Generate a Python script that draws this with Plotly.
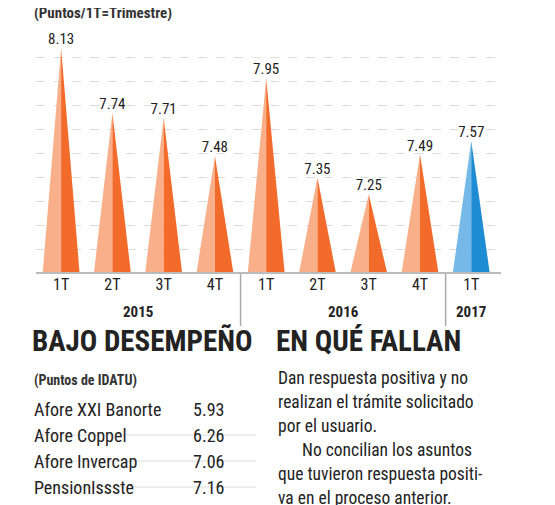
import plotly.graph_objects as go

quarters = ["1T", "2T", "3T", "4T", "1T", "2T", "3T", "4T", "1T"]
values = [8.13, 7.74, 7.71, 7.48, 7.95, 7.35, 7.25, 7.49, 7.57]
years = ["2015", "2016", "2017"]
year_pos = [1.5, 5.5, 8]
separators = [3.5, 7.5]
afores = ["Afore XXI Banorte", "Afore Coppel", "Afore Invercap", "PensionIssste"]
afore_vals = ["5.93", "6.26", "7.06", "7.16"]
para = ["Dan respuesta positiva y no", "realizan el trámite solicitado", "por el usuario.",
        "      No concilian los asuntos", "que tuvieron respuesta positi-", "va en el proceso anterior."]

BASE = 6.775
W = 0.36
COND = "Roboto Condensed, Liberation Sans Narrow, Roboto"
W_ = 555; H_ = 505

fig = go.Figure()
def halves(idx, side):
    xs, ys = [], []
    for i in idx:
        v = values[i]
        if side == "L":
            xs += [i - W, i, i, None]
        else:
            xs += [i, i, i + W, None]
        ys += [BASE, v, BASE, None]
    return xs, ys

orange = list(range(8)); blue = [8]
for idx, cl, cd in [(orange, "#f9b08a", "#f26b2b"), (blue, "#74b9e7", "#1e8cd3")]:
    for side, c in [("L", cl), ("R", cd)]:
        xs, ys = halves(idx, side)
        fig.add_trace(go.Scatter(x=xs, y=ys, fill="toself", fillcolor=c, mode="lines",
                                 line=dict(width=0), hoverinfo="skip", showlegend=False, cliponaxis=False))
fig.add_trace(go.Scatter(x=list(range(9)), y=values, mode="text", text=[f"{v:.2f}" for v in values],
                         textposition="top center", textfont=dict(family=COND, size=15, color="#222"),
                         showlegend=False, cliponaxis=False))

def py(p):
    return 1 - p / H_
def px(p):
    return p / W_

ann = []
ann.append(dict(x=px(24), y=py(5), xref="paper", yref="paper", text="<b>(Puntos/1T=Trimestre)</b>",
                showarrow=False, xanchor="left", yanchor="middle", font=dict(family=COND, size=15, color="#333")))
for y, p in zip(years, year_pos):
    ann.append(dict(x=p, y=py(304), xref="x", yref="paper", text=f"<b>{y}</b>", showarrow=False,
                    font=dict(family=COND, size=15, color="#222")))
ann.append(dict(x=px(22), y=py(352), xref="paper", yref="paper", text="<b>BAJO DESEMPEÑO</b>", showarrow=False,
                xanchor="left", font=dict(family=COND, size=29, color="#222")))
ann.append(dict(x=px(266), y=py(352), xref="paper", yref="paper", text="<b>EN QUÉ FALLAN</b>", showarrow=False,
                xanchor="left", font=dict(family=COND, size=29, color="#222")))
ann.append(dict(x=px(24), y=py(383), xref="paper", yref="paper", text="<b>(Puntos de IDATU)</b>", showarrow=False,
                xanchor="left", font=dict(family=COND, size=14, color="#333")))
shapes = []
for k, (n, v) in enumerate(zip(afores, afore_vals)):
    yy = 414 + 26 * k
    ann.append(dict(x=px(24), y=py(yy), xref="paper", yref="paper", text=n, showarrow=False,
                    xanchor="left", font=dict(family=COND, size=18, color="#222")))
    ann.append(dict(x=px(200), y=py(yy), xref="paper", yref="paper", text=v, showarrow=False,
                    xanchor="center", font=dict(family=COND, size=18, color="#222")))
    shapes.append(dict(type="line", xref="paper", yref="paper", x0=px(28), x1=px(248),
                       y0=py(yy + 13), y1=py(yy + 13), line=dict(color="#ddd", width=1)))
for k, t in enumerate(para):
    ann.append(dict(x=px(268), y=py(382 + 24 * k), xref="paper", yref="paper", text=t, showarrow=False,
                    xanchor="left", font=dict(family=COND, size=17.5, color="#222")))
for s in separators:
    shapes.append(dict(type="line", xref="x", yref="paper", x0=s, x1=s, y0=py(265), y1=py(318),
                       line=dict(color="#aaa", width=1.5)))
shapes.append(dict(type="line", xref="paper", yref="paper", x0=px(28), x1=px(493), y0=py(265), y1=py(265),
                   line=dict(color="#bbb", width=2)))

fig.update_layout(
    width=W_, height=H_, margin=dict(l=0, r=0, t=0, b=0),
    plot_bgcolor="rgba(0,0,0,0)", paper_bgcolor="white",
    xaxis=dict(domain=[px(28), px(493)], range=[-0.49, 8.58], tickvals=list(range(9)), ticktext=quarters,
               showgrid=False, zeroline=False, showline=False, ticks="", ticklen=0,
               tickfont=dict(family=COND, size=16, color="#222")),
    yaxis=dict(domain=[1 - 265 / H_, 1 - 30 / H_], range=[BASE, BASE + 235 / 166], tick0=BASE, dtick=24 / 166,
               showticklabels=False, showgrid=True, gridcolor="#ddd", griddash="dash", zeroline=False),
    annotations=ann, shapes=shapes,
)
fig.write_html("out.html")
